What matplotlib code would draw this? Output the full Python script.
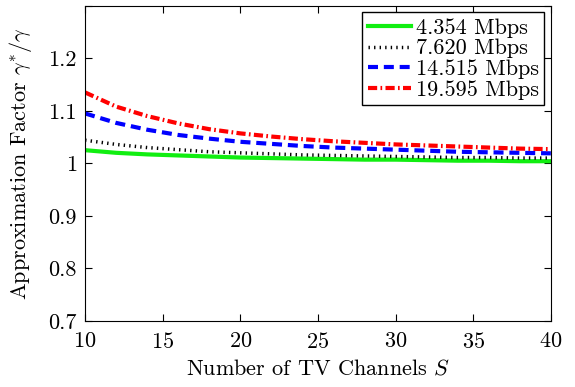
import numpy as np
import matplotlib
matplotlib.use('Agg')
import matplotlib.pyplot as plt

plt.rcParams['font.family'] = 'serif'
plt.rcParams['font.serif'] = ['cmr10']
plt.rcParams['mathtext.fontset'] = 'cm'
plt.rcParams['axes.formatter.use_mathtext'] = True

# number of TV channels
S = [10, 12, 14, 16, 18, 20, 22, 24, 26, 28, 30, 32, 34, 36, 38, 40]

# approximation factor
g_4354 = [1.025, 1.020, 1.017, 1.015, 1.013, 1.011, 1.010, 1.009, 1.008, 1.007,
          1.007, 1.006, 1.005, 1.005, 1.004, 1.004]
g_7620 = [1.044, 1.036, 1.030, 1.026, 1.022, 1.020, 1.018, 1.016, 1.015, 1.014,
          1.013, 1.012, 1.011, 1.011, 1.010, 1.010]
g_14515 = [1.095, 1.077, 1.064, 1.054, 1.047, 1.041, 1.037, 1.033, 1.030, 1.028,
           1.026, 1.024, 1.022, 1.021, 1.020, 1.019]
g_19595 = [1.135, 1.108, 1.090, 1.076, 1.065, 1.057, 1.051, 1.046, 1.042, 1.039,
           1.036, 1.034, 1.032, 1.030, 1.028, 1.027]

labels = ['4.354 Mbps', '7.620 Mbps', '14.515 Mbps', '19.595 Mbps']

fig = plt.figure(figsize=(5.75, 3.87), dpi=100)
ax = fig.add_axes([0.148, 0.171, 0.810, 0.814])

ax.plot(S, g_4354, color='#11ee11', lw=3, ls='-', label=labels[0])
ax.plot(S, g_7620, color='black', lw=2.5, ls=(0, (0.4, 1.2)), label=labels[1])
ax.plot(S, g_14515, color='blue', lw=3, ls=(0, (2.4, 1.4)), label=labels[2])
ax.plot(S, g_19595, color='red', lw=3, ls=(0, (2.2, 0.8, 0.4, 0.8)), label=labels[3])

ax.set_xlim(10, 40)
ax.set_ylim(0.7, 1.3)
ax.set_xticks([10, 15, 20, 25, 30, 35, 40])
ax.set_yticks([0.7, 0.8, 0.9, 1.0, 1.1, 1.2, 1.3])
ax.set_yticklabels(['0.7', '0.8', '0.9', '1', '1.1', '1.2', ''])
ax.tick_params(direction='in', top=True, right=True, labelsize=16, length=5)
ax.tick_params(axis='x', pad=8)
ax.tick_params(axis='y', pad=6)

ax.set_xlabel(r'Number of TV Channels $S$', fontsize=16, labelpad=5)
ax.set_ylabel(r'Approximation Factor $\gamma^{*}/\gamma$', fontsize=16, labelpad=10)

leg = ax.legend(loc='upper right', fontsize=16, fancybox=False, edgecolor='black',
                handlelength=1.95, handletextpad=0.2, borderpad=0.25, labelspacing=0.05,
                borderaxespad=0.3, framealpha=1)
leg.get_frame().set_linewidth(1.0)

fig.savefig('out.png', dpi=100)
